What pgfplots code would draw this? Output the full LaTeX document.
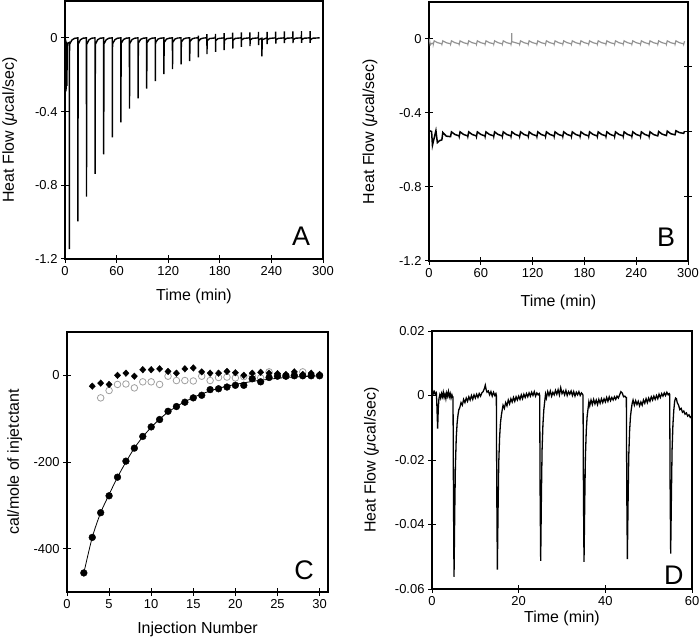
\documentclass[border=0pt]{standalone}
\usepackage{fontspec}
\setmainfont{Liberation Sans}
\usepackage{pgfplots}
\pgfplotsset{compat=1.18}

\pgfplotsset{
  panel/.style={
    scale only axis, anchor=south west,
    tick align=center, major tick length=8bp, tick pos=left,
    axis line style={line width=1.1bp},
    every tick/.style={black, line width=1bp},
    tick label style={font=\fontsize{13}{15}\selectfont},
    label style={font=\fontsize{16}{19}\selectfont},
    scaled ticks=false,
  },
}
\tikzset{letter/.style={font=\fontsize{27}{30}\selectfont}}

\begin{document}
\begin{tikzpicture}
\useasboundingbox (0,0) rectangle (700bp,639bp);

% ---------- A ----------
\begin{axis}[panel, at={(65bp,380bp)}, width=258bp, height=258bp,
    xmin=0, xmax=300, ymin=-1.2, ymax=0.2,
    xtick={0,60,120,180,240,300}, xticklabels={0,60,120,180,240,300},
    ytick={-1.2,-0.8,-0.4,0}, yticklabels={-1.2,-0.8,-0.4,0},
    xlabel={Time (min)}, ylabel={Heat Flow (\textit{μ}cal/sec)},
    xlabel style={at={(axis description cs:0.5,-0.159)}, anchor=base},
    ylabel style={at={(axis description cs:-0.198,0.5)}, anchor=base},
]
\addplot[black, line width=1.4bp] coordinates {
(0,0) (0.3,-0.30) (0.7,-0.01) (1.2,-0.29) (1.7,-0.02) (2.2,-0.26) (2.7,-0.03) (4.9,-0.025)
(5,-1.146) (5.3,-0.035) (8,-0.012) (11,-0.003) (14.9,0)
(15,-0.996) (15.3,-0.035) (18,-0.01) (21,-0.002) (24.9,0)
(25,-0.861) (25.3,-0.035) (28,-0.01) (31,-0.002) (34.9,0)
(35,-0.738) (35.3,-0.035) (38,-0.01) (41,-0.002) (44.9,0)
(45,-0.632) (45.3,-0.033) (48,-0.01) (51,-0.002) (54.9,0)
(55,-0.540) (55.3,-0.032) (58,-0.01) (61,-0.002) (64.9,0)
(65,-0.458) (65.3,-0.03) (68,-0.009) (71,-0.002) (74.9,0)
(75,-0.384) (75.3,-0.03) (78,-0.009) (81,-0.002) (84.9,0)
(85,-0.329) (85.3,-0.028) (88,-0.008) (91,-0.002) (94.9,0)
(95,-0.276) (95.3,-0.027) (98,-0.008) (101,-0.002) (104.9,0)
(105,-0.235) (105.3,-0.026) (108,-0.007) (111,-0.002) (114.9,0)
(115,-0.197) (115.3,-0.025) (118,-0.007) (121,-0.002) (124.9,0)
(125,-0.170) (125.3,-0.024) (128,-0.006) (131,-0.001) (134.9,0)
(135,-0.144) (135.3,-0.022) (138,-0.006) (141,-0.001) (144.9,0)
(145,-0.126) (145.3,-0.02) (148,-0.005) (151,-0.001) (154.9,0)
(155,0.012) (155.1,-0.106) (155.3,-0.018) (158,-0.005) (161,-0.001) (164.9,0)
(165,0.020) (165.1,-0.088) (165.3,-0.016) (168,-0.004) (174.9,0)
(175,0.022) (175.1,-0.076) (175.3,-0.015) (178,-0.004) (184.9,0)
(185,0.025) (185.1,-0.067) (185.3,-0.014) (188,-0.004) (194.9,0)
(195,0.028) (195.1,-0.058) (195.3,-0.013) (198,-0.003) (204.9,0)
(205,0.030) (205.1,-0.049) (205.3,-0.012) (208,-0.003) (214.9,0)
(215,0.030) (215.1,-0.045) (215.3,-0.012) (218,-0.003) (224.9,0)
(225,0.032) (225.1,-0.040) (225.3,-0.011) (228,-0.003) (228.9,-0.002) (229,-0.10) (229.3,-0.01) (234.9,0)
(235,0.032) (235.1,-0.034) (235.3,-0.01) (238,-0.003) (244.9,0)
(245,0.034) (245.1,-0.031) (245.3,-0.01) (248,-0.003) (254.9,0)
(255,0.035) (255.1,-0.028) (255.3,-0.01) (258,-0.002) (264.9,0)
(265,0.035) (265.1,-0.028) (265.3,-0.01) (268,-0.002) (274.9,0)
(275,0.036) (275.1,-0.027) (275.3,-0.01) (278,-0.002) (284.9,0)
(285,0.036) (285.1,-0.027) (285.3,-0.01) (288,-0.002) (296,0)
};
\node[letter] at (rel axis cs:0.915,0.089) {A};
\end{axis}

% ---------- B ----------
\begin{axis}[panel, at={(429bp,378bp)}, width=259bp, height=259bp,
    xmin=0, xmax=300, ymin=-1.2, ymax=0.2,
    xtick={0,60,120,180,240,300}, xticklabels={0,60,120,180,240,300},
    ytick={-1.2,-0.8,-0.4,0}, yticklabels={-1.2,-0.8,-0.4,0},
    xlabel={Time (min)}, ylabel={Heat Flow (\textit{μ}cal/sec)},
    xlabel style={at={(axis description cs:0.5,-0.174)}, anchor=base},
    ylabel style={at={(axis description cs:-0.212,0.5)}, anchor=base},
]
\addplot[gray!85, line width=1.2bp] coordinates {
(0,0) (0.5,-0.004) (1.5,-0.032) (3,-0.024) (4.9,-0.022)
(5,-0.028) (6,-0.010) (10,-0.02) (14.9,-0.026)
(15,-0.028) (16,-0.010) (20,-0.02) (24.9,-0.026)
(25,-0.028) (26,-0.010) (30,-0.02) (34.9,-0.026)
(35,-0.028) (36,-0.010) (40,-0.02) (44.9,-0.026)
(45,-0.028) (46,-0.010) (50,-0.02) (54.9,-0.026)
(55,-0.028) (56,-0.010) (60,-0.02) (64.9,-0.026)
(65,-0.028) (66,-0.010) (70,-0.02) (74.9,-0.026)
(75,-0.028) (76,-0.010) (80,-0.02) (84.9,-0.026)
(85,-0.028) (86,-0.010) (90,-0.02) (94.9,-0.026)
(95,-0.028) (95.7,-0.014) (95.8,0.032) (95.9,-0.014) (100,-0.02) (104.9,-0.026)
(105,-0.028) (106,-0.010) (110,-0.02) (114.9,-0.026)
(115,-0.028) (116,-0.010) (120,-0.02) (124.9,-0.026)
(125,-0.028) (126,-0.010) (130,-0.02) (134.9,-0.026)
(135,-0.028) (136,-0.010) (140,-0.02) (144.9,-0.026)
(145,-0.028) (146,-0.010) (150,-0.02) (154.9,-0.026)
(155,-0.028) (156,-0.010) (160,-0.02) (164.9,-0.026)
(165,-0.028) (166,-0.010) (170,-0.02) (174.9,-0.026)
(175,-0.028) (176,-0.010) (180,-0.02) (184.9,-0.026)
(185,-0.028) (186,-0.010) (190,-0.02) (194.9,-0.026)
(195,-0.028) (196,-0.010) (200,-0.02) (204.9,-0.026)
(205,-0.028) (206,-0.010) (210,-0.02) (214.9,-0.026)
(215,-0.028) (216,-0.010) (220,-0.02) (224.9,-0.026)
(225,-0.028) (226,-0.010) (230,-0.02) (234.9,-0.026)
(235,-0.028) (236,-0.010) (240,-0.02) (244.9,-0.026)
(245,-0.028) (246,-0.010) (250,-0.02) (254.9,-0.026)
(255,-0.028) (256,-0.010) (260,-0.02) (264.9,-0.026)
(265,-0.028) (266,-0.010) (270,-0.02) (274.9,-0.026)
(275,-0.028) (276,-0.010) (280,-0.02) (284.9,-0.026)
(285,-0.028) (286,-0.010) (290,-0.02) (294.9,-0.026)
(295,-0.028) (296,-0.012)
};
\addplot[black, line width=1.5bp] coordinates {
(0,-0.495) (3,-0.50) (4,-0.575) (8,-0.495) (9.7,-0.56) (12,-0.55) (14.9,-0.545)
(16,-0.505) (20,-0.525) (24.9,-0.528)
(25,-0.526) (26,-0.502) (30,-0.516) (34.9,-0.524)
(35,-0.526) (36,-0.502) (40,-0.516) (44.9,-0.524)
(45,-0.526) (46,-0.502) (50,-0.516) (54.9,-0.524)
(55,-0.526) (56,-0.502) (60,-0.516) (64.9,-0.524)
(65,-0.526) (66,-0.502) (70,-0.516) (74.9,-0.524)
(75,-0.526) (76,-0.502) (80,-0.516) (84.9,-0.524)
(85,-0.526) (86,-0.502) (90,-0.516) (94.9,-0.524)
(95,-0.526) (96,-0.502) (100,-0.516) (104.9,-0.524)
(105,-0.526) (106,-0.502) (110,-0.516) (114.9,-0.524)
(115,-0.526) (116,-0.502) (120,-0.516) (124.9,-0.524)
(125,-0.526) (126,-0.502) (130,-0.516) (134.9,-0.524)
(135,-0.526) (136,-0.502) (140,-0.516) (144.9,-0.524)
(145,-0.526) (146,-0.502) (150,-0.516) (154.9,-0.524)
(155,-0.526) (156,-0.502) (160,-0.516) (164.9,-0.524)
(165,-0.526) (166,-0.502) (170,-0.516) (174.9,-0.524)
(175,-0.526) (176,-0.502) (180,-0.516) (184.9,-0.524)
(185,-0.526) (186,-0.502) (190,-0.516) (194.9,-0.524)
(195,-0.526) (196,-0.502) (200,-0.516) (204.9,-0.524)
(205,-0.526) (206,-0.502) (210,-0.516) (214.9,-0.524)
(215,-0.526) (216,-0.502) (220,-0.516) (224.9,-0.524)
(225,-0.526) (226,-0.502) (230,-0.516) (234.9,-0.524)
(235,-0.526) (236,-0.502) (240,-0.516) (244.9,-0.524)
(245,-0.526) (246,-0.502) (250,-0.516) (254.9,-0.524)
(255,-0.526) (256,-0.502) (260,-0.516) (264.9,-0.524)
(265,-0.524) (266,-0.500) (270,-0.514) (274.9,-0.522)
(275,-0.522) (276,-0.498) (280,-0.512) (284.9,-0.518)
(285,-0.518) (286,-0.496) (290,-0.506) (294.9,-0.51)
(295,-0.51) (296,-0.498)
};
\node[letter] at (rel axis cs:0.915,0.09) {B};
\end{axis}
% right-hand ticks of B
\begin{axis}[scale only axis, anchor=south west, at={(429bp,378bp)}, width=259bp, height=259bp,
    xmin=0, xmax=300, ymin=-1.2, ymax=0.2,
    hide x axis, axis y line*=right, axis line style={draw=none},
    ytick={-0.85,-0.5,-0.15}, yticklabels={},
    tick align=center, major tick length=8bp,
    every tick/.style={black, line width=1bp}]
\addplot[draw=none] coordinates {(0,0)};
\end{axis}

% ---------- C ----------
\begin{axis}[panel, at={(67bp,47bp)}, width=261bp, height=260bp,
    xmin=0, xmax=31, ymin=-500, ymax=100,
    xtick={0,5,10,15,20,25,30}, xticklabels={0,5,10,15,20,25,30},
    ytick={-400,-200,0}, yticklabels={-400,-200,0},
    xlabel={Injection Number}, ylabel={cal/mole of injetctant},
    xlabel style={at={(axis description cs:0.5,-0.159)}, anchor=base},
    ylabel style={at={(axis description cs:-0.184,0.5)}, anchor=base},
]
% fitted curve
\addplot[black, line width=0.8bp, smooth] coordinates {
(2,-456) (3,-374) (4,-317) (5,-275) (6,-235) (7,-200) (8,-168) (9,-142) (10,-120)
(11,-101) (12,-85) (13,-72) (14,-61) (15,-51) (16,-43) (17,-36) (18,-30) (19,-25)
(20,-21) (22,-14) (24,-9) (26,-5) (28,-3) (30,-1)
};
% open circles
\addplot[only marks, mark=o, mark size=3.3bp, gray!75, mark options={line width=0.8bp}] coordinates {
(4,-52) (5,-35) (6,-21) (7,-20) (8,-29) (9,-15) (10,-15) (11,-21) (12,-2) (13,-12)
(14,-12) (15,-13) (16,-2) (17,-12) (18,-5) (19,-4) (20,-6) (21,-3) (22,-1) (23,-6)
(24,8) (25,0) (26,-1) (27,0) (28,8) (29,0) (30,0)
};
% diamonds
\addplot[only marks, mark=diamond*, mark size=3.3bp, black, mark options={xscale=1.25}] coordinates {
(3,-25) (4,-18) (5,-21) (6,0) (7,5) (8,-2) (9,13) (10,13) (11,15) (12,9) (13,5)
(14,15) (15,17) (16,8) (17,5) (18,5) (19,9) (20,6) (21,0) (22,5) (23,7) (24,5)
(25,4) (26,2) (27,8) (28,2) (29,5) (30,2)
};
% filled circles
\addplot[only marks, mark=*, mark size=3.4bp, black] coordinates {
(2,-456) (3,-374) (4,-317) (5,-278) (6,-235) (7,-198) (8,-168) (9,-141) (10,-119)
(11,-102) (12,-83) (13,-72) (14,-62) (15,-52) (16,-46) (17,-33) (18,-31) (19,-27)
(20,-23) (21,-23) (22,-8) (23,-15) (24,-5) (25,-2) (26,-2) (27,-1) (28,-1) (29,-1) (30,-1)
};
\node[letter] at (rel axis cs:0.908,0.083) {C};
\end{axis}

% ---------- D ----------
\begin{axis}[panel, at={(432bp,50bp)}, width=260bp, height=258bp,
    xmin=0, xmax=60, ymin=-0.06, ymax=0.02,
    xtick={0,20,40,60}, xticklabels={0,20,40,60},
    ytick={-0.06,-0.04,-0.02,0,0.02}, yticklabels={-0.06,-0.04,-0.02,0,0.02},
    xlabel={Time (min)}, ylabel={Heat Flow (\textit{μ}cal/sec)},
    xlabel style={at={(axis description cs:0.5,-0.131)}, anchor=base},
    ylabel style={at={(axis description cs:-0.217,0.5)}, anchor=base},
]
\addplot[black, line width=1.3bp] coordinates {
(0,0.0010) (0.2,0.0014) (0.4,0.0006) (0.6,0.0012) (0.8,0.0004) (1.0,0.0008)
(1.1,-0.002) (1.3,-0.0103) (1.45,-0.004) (1.6,-0.001) (1.8,0.0002) (2.0,-0.0008)
(2.2,0.0006) (2.4,-0.0004) (2.6,0.0010) (2.8,-0.0006) (3.0,0.0004) (3.2,-0.0010)
(3.4,0.0008) (3.6,-0.0002) (3.8,0.0012) (4.0,-0.0004) (4.2,0.0006) (4.4,-0.0008)
(4.6,0.0002) (4.75,-0.0005)
(4.85,-0.0005) (4.95,-0.030) (5.08,-0.0562) (5.25,-0.036) (5.4,-0.022) (5.6,-0.013) (5.8,-0.0085) (6.0,-0.0060)
(6.2,-0.0044) (6.4,-0.0038) (6.7,-0.0022) (7.0,-0.0030) (7.3,-0.0012) (7.6,-0.0022)
(7.9,-0.0008) (8.2,-0.0018) (8.5,-0.0004) (8.8,-0.0014) (9.1,0.0000) (9.4,-0.0012)
(9.7,0.0002) (10.0,-0.0008) (10.3,0.0004) (10.6,-0.0006) (10.9,0.0006) (11.2,-0.0002)
(11.5,0.0008) (11.8,0.0012) (12.1,0.0022) (12.3,0.0032) (12.5,0.0018) (12.7,0.0010)
(13.0,0.0014) (13.3,0.0002) (13.6,0.0012) (13.9,-0.0002) (14.2,0.0010) (14.5,0.0000) (14.75,0.0006)
(14.85,0.0) (14.95,-0.03) (15.08,-0.054) (15.25,-0.035) (15.4,-0.021) (15.6,-0.013) (15.8,-0.0085) (16.0,-0.0062)
(16.2,-0.0045) (16.4,-0.0030) (16.7,-0.0040) (17.0,-0.0022) (17.3,-0.0032) (17.6,-0.0014)
(17.9,-0.0026) (18.2,-0.0010) (18.5,-0.0020) (18.8,-0.0006) (19.1,-0.0018) (19.4,-0.0004)
(19.7,-0.0014) (20.0,-0.0002) (20.3,-0.0012) (20.6,0.0002) (20.9,-0.0010) (21.2,0.0004)
(21.5,-0.0006) (21.8,0.0006) (22.1,-0.0004) (22.4,0.0008) (22.7,-0.0002) (23.0,0.0010)
(23.3,0.0000) (23.6,0.0012) (23.9,-0.0002) (24.2,0.0008) (24.5,0.0002) (24.75,0.0006)
(24.85,0.0) (24.95,-0.03) (25.08,-0.0513) (25.25,-0.031) (25.4,-0.017) (25.6,-0.009) (25.8,-0.0045) (26.0,-0.002)
(26.2,0.0004) (26.4,-0.0008) (26.7,0.0012) (27.0,0.0000) (27.3,0.0014) (27.6,-0.0002)
(27.9,0.0010) (28.2,0.0002) (28.5,0.0016) (28.8,0.0004) (29.1,0.0018) (29.4,0.0002)
(29.7,0.0024) (30.0,0.0006) (30.3,0.0014) (30.6,0.0002) (30.9,0.0016) (31.2,0.0000)
(31.5,0.0012) (31.8,0.0004) (32.1,0.0014) (32.4,0.0000) (32.7,0.0012) (33.0,-0.0002)
(33.3,0.0010) (33.6,0.0002) (33.9,0.0012) (34.2,0.0000) (34.5,0.0008) (34.75,0.0004)
(34.85,0.0) (34.95,-0.03) (35.08,-0.0516) (35.25,-0.033) (35.4,-0.019) (35.6,-0.011) (35.8,-0.0065) (36.0,-0.0042)
(36.2,-0.0020) (36.4,-0.0032) (36.7,-0.0014) (37.0,-0.0028) (37.3,-0.0012) (37.6,-0.0026)
(37.9,-0.0014) (38.2,-0.0028) (38.5,-0.0012) (38.8,-0.0024) (39.1,-0.0010) (39.4,-0.0022)
(39.7,-0.0010) (40.0,-0.0020) (40.3,-0.0006) (40.6,-0.0018) (40.9,-0.0004) (41.2,-0.0016)
(41.5,-0.0006) (41.8,-0.0014) (42.1,-0.0004) (42.4,-0.0012) (42.7,-0.0002) (43.0,-0.0008)
(43.3,0.0002) (43.6,0.0012) (43.9,0.0008) (44.2,-0.0004) (44.5,-0.0002) (44.75,-0.0006)
(44.85,-0.0006) (44.95,-0.03) (45.08,-0.0507) (45.25,-0.033) (45.4,-0.019) (45.6,-0.011) (45.8,-0.0065) (46.0,-0.0042)
(46.2,-0.0024) (46.4,-0.0014) (46.7,-0.0030) (47.0,-0.0016) (47.3,-0.0028) (47.6,-0.0018)
(47.9,-0.0032) (48.2,-0.0020) (48.5,-0.0030) (48.8,-0.0014) (49.1,-0.0024) (49.4,-0.0010)
(49.7,-0.0022) (50.0,-0.0008) (50.3,-0.0018) (50.6,-0.0004) (50.9,-0.0014) (51.2,-0.0002)
(51.5,-0.0012) (51.8,0.0000) (52.1,-0.0010) (52.4,0.0004) (52.7,-0.0006) (53.0,0.0006)
(53.3,-0.0002) (53.6,0.0008) (53.9,0.0000) (54.2,0.0010) (54.5,0.0002) (54.75,0.0006)
(54.85,0.0004) (54.95,-0.028) (55.08,-0.049) (55.25,-0.031) (55.4,-0.017) (55.6,-0.009) (55.8,-0.0045) (56.0,-0.0018)
(56.2,-0.0008) (56.4,-0.0010) (56.6,-0.0022) (56.9,-0.0030) (57.2,-0.0044) (57.5,-0.0040)
(57.8,-0.0052) (58.1,-0.0048) (58.4,-0.0058) (58.7,-0.0054) (59.0,-0.0064) (59.3,-0.0060)
(59.6,-0.0068) (59.9,-0.0064) (60,-0.0066)
};
\node[letter] at (rel axis cs:0.93,0.052) {D};
\end{axis}
\end{tikzpicture}
\end{document}
